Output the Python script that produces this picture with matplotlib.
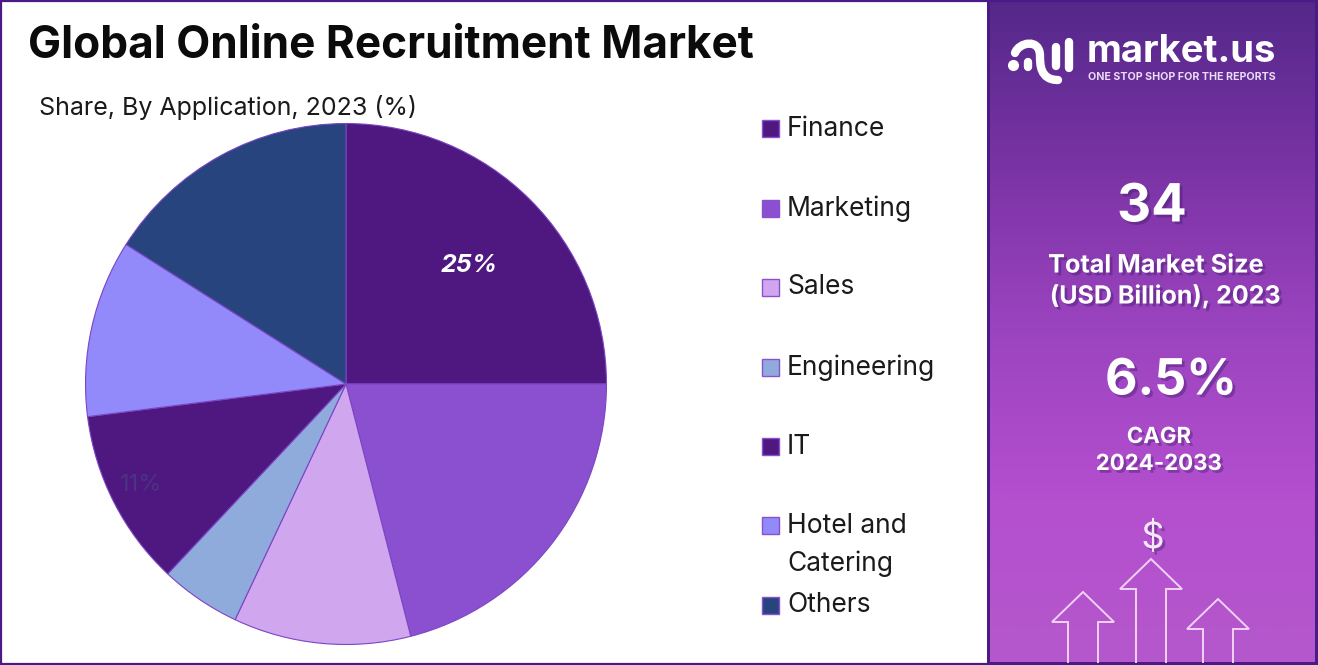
#!/usr/bin/env python3
import matplotlib
matplotlib.use('Agg')
import matplotlib.pyplot as plt
import matplotlib.patheffects as pe
from matplotlib.colors import LinearSegmentedColormap
from matplotlib.patches import Rectangle, PathPatch
from matplotlib.path import Path
import numpy as np

W = 1318
H = 665

categories = ['Finance', 'Marketing', 'Sales', 'Engineering', 'IT', 'Hotel and\nCatering', 'Others']
shares = [25, 21, 11, 5, 11, 11, 16]
colors = ['#4e1880', '#8a50d0', '#d0a6ee', '#8fabdc', '#4e1880', '#9289fb', '#27447f']
legend_y = [128, 208, 287, 367, 446, 525, 605]

plt.rcParams['font.family'] = ['Inter', 'DejaVu Sans']

fig = plt.figure(figsize=(W / 100, H / 100), dpi=100, facecolor='white')

# everything but the pie is placed in pixel coords
ax = fig.add_axes([0, 0, 1, 1])
ax.set_xlim(0, W)
ax.set_ylim(H, 0)
ax.axis('off')

# right panel gradient
cmap = LinearSegmentedColormap.from_list('panel', ['#54288a', '#7a33a4', '#9c44c0', '#b44fcf', '#b458cc'])
grad = np.linspace(0, 1, 256).reshape(-1, 1)
ax.imshow(grad, extent=(988, W, H, 0), cmap=cmap, aspect='auto', zorder=0)
ax.set_xlim(0, W)
ax.set_ylim(H, 0)

# frame
ax.add_patch(Rectangle((1, 1), W - 2, H - 2, fill=False, ec='#4a1a86', lw=1.6, zorder=5))
ax.add_patch(Rectangle((987, 0), 3, H, fc='#4a1a86', ec='none', zorder=5))
ax.add_patch(Rectangle((W - 3, 0), 3, H, fc='#4a1a86', ec='none', zorder=5))
ax.add_patch(Rectangle((988, H - 3), W - 988, 3, fc='#4a1a86', ec='none', zorder=5))

ax.text(28, 46, 'Global Online Recruitment Market', fontsize=31.8, fontweight='bold',
        color='#0b0b0b', va='center', ha='left')
ax.text(39, 108, 'Share, By Application, 2023 (%)', fontsize=18, color='#1a1a1a',
        va='center', ha='left')

# pie
pie_ax = fig.add_axes([85 / W, (H - 645) / H, 522 / W, 522 / H])
pie_ax.pie(shares, colors=colors, startangle=90, counterclock=False, radius=1,
           wedgeprops={'edgecolor': '#7b45c4', 'linewidth': 0.8})
pie_ax.set_xlim(-1.002, 1.002)
pie_ax.set_ylim(-1.002, 1.002)

ax2 = fig.add_axes([0, 0, 1, 1], facecolor='none')
ax2.set_xlim(0, W)
ax2.set_ylim(H, 0)
ax2.axis('off')
ax2.text(469, 266, '25%', fontsize=18, fontweight='bold', fontstyle='italic', color='white',
         ha='center', va='center')
ax2.text(141, 485, '11%', fontsize=17, color='#4a3380', ha='center', va='center')

# legend
for name, col, y in zip(categories, colors, legend_y):
    ax2.add_patch(Rectangle((762, y - 8.5), 17, 17, fc=col, ec='#8a50d0', lw=1))
    ax2.text(787, y + 0.5 if '\n' not in name else y + 20, name, fontsize=19, color='#1a1a1a',
             ha='left', va='center', linespacing=1.6)

# panel text
shadow = [pe.withSimplePatchShadow(offset=(2, -2), shadow_rgbFace='#3c1a66', alpha=0.4)]
def panel_text(x, y, s, size):
    ax2.text(x, y, s, fontsize=size, fontweight='bold', color='white', ha='center', va='center',
             path_effects=shadow)

panel_text(1152, 208, '34', 38)
panel_text(1156, 266, 'Total Market Size', 18.2)
panel_text(1165, 296, '(USD Billion), 2023', 18)
panel_text(1171, 381, '6.5%', 36)
panel_text(1159, 437, 'CAGR', 16)
panel_text(1159, 464, '2024-2033', 16)

# logo
ax2.text(1087, 62, 'market.us', fontsize=27.5, fontweight='bold', color='white', ha='left', va='baseline')
ax2.text(1088, 72, 'ONE STOP SHOP FOR THE REPORTS', fontsize=7.7, fontweight='bold', color='#eadcf5',
         ha='left', va='top')
logo = dict(color='white', lw=6, solid_capstyle='round', path_effects=shadow)
ax2.add_patch(PathPatch(Path([(1015, 53), (1019, 42), (1040, 38), (1040, 56), (1040, 64), (1040, 80), (1058, 80)],
                            [Path.MOVETO, Path.CURVE4, Path.CURVE4, Path.CURVE4, Path.CURVE4, Path.CURVE4, Path.CURVE4]),
                       fc='none', ec='white', lw=6, capstyle='round'))
ax2.plot([1056, 1056], [47, 66], **logo)
ax2.plot([1069, 1069], [42, 68], **logo)
ax2.plot([1013], [65], 'o', ms=7, color='white')
ax2.plot([1028, 1028], [62, 67], **logo)

# arrows at the bottom
ax2.text(1153, 538, '$', fontsize=26, color='#f6e8fb', ha='center', va='center', path_effects=shadow)
for cx, top, base in [(1083, 592, 622), (1151, 559, 589), (1218, 599, 629)]:
    ax2.plot([cx - 15, cx - 15, cx - 31, cx, cx + 31, cx + 15, cx + 15],
             [H - 3, base, base, top, base, base, H - 3], color='#f0d2f5', lw=1.4, solid_joinstyle='miter')

fig.savefig('out.png', dpi=100)
